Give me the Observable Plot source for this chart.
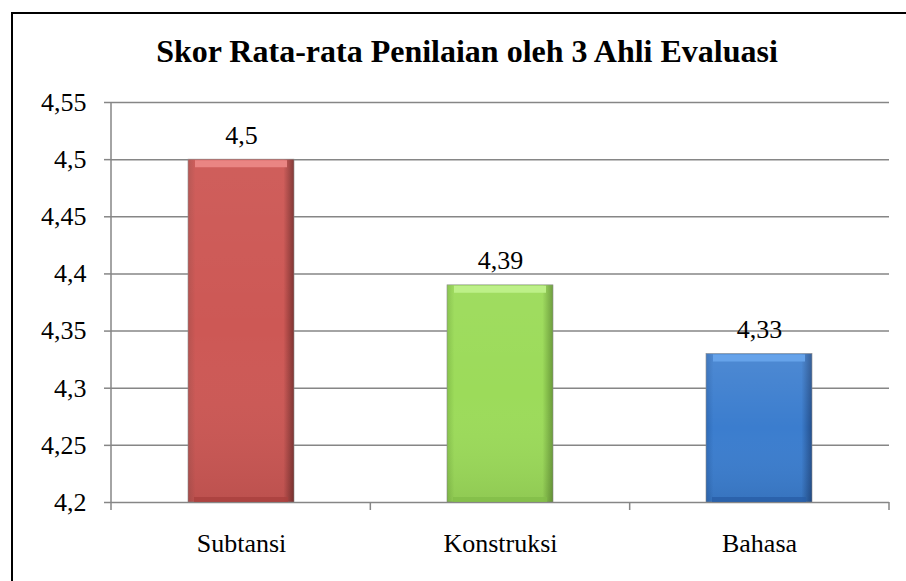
<!DOCTYPE html>
<html><head><meta charset="utf-8">
<script src="https://cdn.jsdelivr.net/npm/d3@7"></script>
<script src="https://cdn.jsdelivr.net/npm/@observablehq/plot@0.6"></script>
<style>
html,body{margin:0;padding:0;background:#fff;overflow:hidden;}
#wrap{position:relative;width:906px;height:581px;overflow:hidden;font-family:"Liberation Serif","Times New Roman",serif;}
#border{position:absolute;left:11px;top:12px;width:930px;height:620px;border:2px solid #000;box-sizing:border-box;pointer-events:none;}
#title{position:relative;margin-left:13px;width:908px;height:45px;padding-top:35px;text-align:center;font-weight:bold;font-size:32px;line-height:32px;color:#000;white-space:nowrap;}
#chart svg{display:block;}
#chart svg text{font-family:"Liberation Serif","Times New Roman",serif;}
</style>
</head><body>
<div id="wrap">
  <div id="title">Skor Rata-rata Penilaian oleh 3 Ahli Evaluasi</div>
  <div id="chart"></div>
  <div id="border"></div>
</div>
<script>
const categories = ["Subtansi", "Konstruksi", "Bahasa"];
const values = [4.5, 4.39, 4.33];
const valueLabels = ["4,5", "4,39", "4,33"];
const yDomain = [4.2, 4.55];
const yTicks = [4.2, 4.25, 4.3, 4.35, 4.4, 4.45, 4.5, 4.55];
const yTickLabels = ["4,2", "4,25", "4,3", "4,35", "4,4", "4,45", "4,5", "4,55"];

const palettes = [
  {id: "gr0", left: "#b4524f", main: "#cd5855", right: "#7e3331", top: "#ea8583", bottom: "#a9403d", vTop: 0.04},
  {id: "gr1", left: "#86c24b", main: "#9cdb5a", right: "#6a9b39", top: "#bdf088", bottom: "#82bd48", vTop: 0.04},
  {id: "gr2", left: "#2f6ab5", main: "#3b7dce", right: "#234f8c", top: "#66a3ea", bottom: "#285ea6", vTop: 0.10}
];

const data = categories.map((c, i) => ({cat: c, value: values[i], label: valueLabels[i], i}));

const defsMark = () => {
  const defs = d3.create("svg:defs");
  palettes.forEach(p => {
    const g = defs.append("linearGradient").attr("id", p.id).attr("x1", 0).attr("x2", 1).attr("y1", 0).attr("y2", 0);
    [[0, p.left], [0.07, p.main], [0.9, p.main], [1, p.right]].forEach(([o, c]) =>
      g.append("stop").attr("offset", o).attr("stop-color", c));
    const v = defs.append("linearGradient").attr("id", p.id + "v").attr("x1", 0).attr("x2", 0).attr("y1", 0).attr("y2", 1);
    [[0, "#ffffff", p.vTop], [0.5, "#ffffff", 0], [1, "#000000", 0.08]].forEach(([o, c, a]) =>
      v.append("stop").attr("offset", o).attr("stop-color", c).attr("stop-opacity", a));
  });
  return defs.node();
};

const frameMark = (index, scales, values, dims) => {
  const g = d3.create("svg:g").attr("stroke", "#868686").attr("stroke-width", 1.5);
  const x0 = dims.marginLeft, x1 = dims.width - dims.marginRight;
  const yb = scales.y(yDomain[0]), yt = scales.y(yDomain[1]);
  g.append("line").attr("x1", x0).attr("x2", x0).attr("y1", yt).attr("y2", yb + 8);
  for (let i = 1; i <= categories.length; i++) {
    const xb = x0 + (x1 - x0) * i / categories.length;
    g.append("line").attr("x1", xb).attr("x2", xb).attr("y1", yb).attr("y2", yb + 8);
  }
  return g.node();
};

const barMarks = [];
data.forEach(d => {
  const p = palettes[d.i];
  barMarks.push(Plot.barY([d], {x: "cat", y1: () => yDomain[0], y2: "value", fill: `url(#${p.id})`, stroke: "#8a8a8a", strokeWidth: 0.6}));
  barMarks.push(Plot.barY([d], {x: "cat", y1: () => yDomain[0], y2: "value", fill: `url(#${p.id}v)`}));
  barMarks.push(Plot.tickY([d], {x: "cat", y: "value", stroke: p.top, strokeWidth: 7, dy: 4, insetLeft: 7, insetRight: 7}));
  barMarks.push(Plot.tickY([d], {x: "cat", y: () => yDomain[0], stroke: p.bottom, strokeWidth: 5, dy: -3, insetLeft: 6, insetRight: 6, strokeOpacity: 0.8}));
});

const serif = "'Liberation Serif','Times New Roman',serif";
const chart = Plot.plot({
  width: 906,
  height: 501,
  marginTop: 22,
  marginBottom: 79,
  marginLeft: 111,
  marginRight: 17,
  style: {fontFamily: serif, fontSize: "26px", color: "#000", background: "transparent"},
  x: {domain: categories, paddingInner: 0.59, paddingOuter: 0.295, label: null},
  y: {domain: yDomain, label: null},
  marks: [
    defsMark,
    Plot.gridY(yTicks, {stroke: "#868686", strokeOpacity: 1, strokeWidth: 1.5}),
    Plot.axisY(yTicks, {tickSize: 7, tickPadding: 18, stroke: "#868686", strokeWidth: 1.5, tickFormat: (d) => yTickLabels[yTicks.indexOf(d)], fontSize: 26, label: null}),
    frameMark,
    ...barMarks,
    Plot.axisX({tickSize: 0, tickPadding: 31, fontSize: 26, label: null}),
    Plot.text(data, {x: "cat", y: "value", text: "label", lineAnchor: "bottom", dy: -16, fontSize: 26, fill: "#000"})
  ]
});
document.getElementById("chart").appendChild(chart);
</script>
</body></html>
